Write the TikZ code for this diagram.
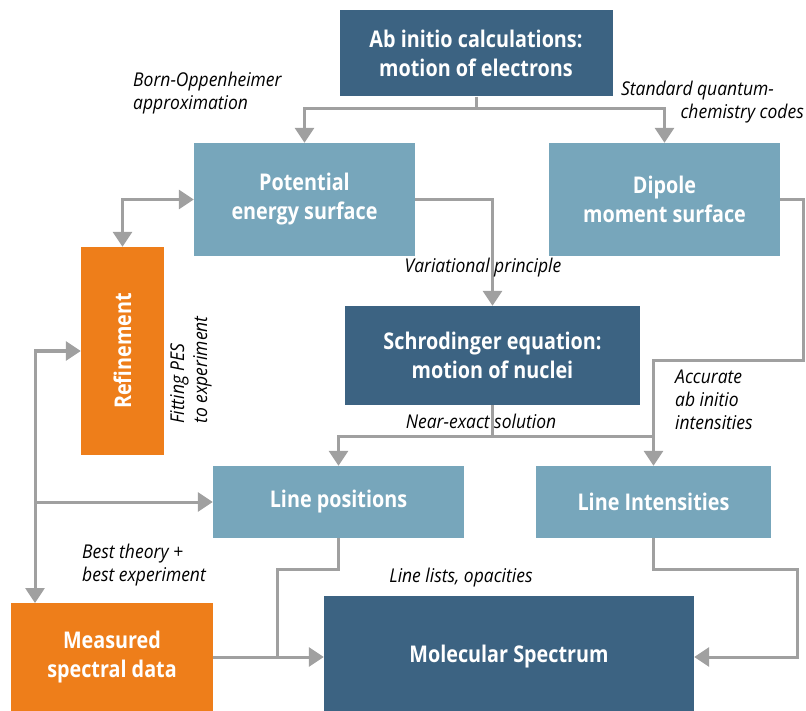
\documentclass[tikz,border=0pt]{standalone}
\usepackage{fontspec}
\setmainfont{Open Sans}[FakeStretch=0.86]
\newfontfamily\lblfont{Open Sans}[FakeStretch=0.92]
\usetikzlibrary{arrows.meta}
\definecolor{darkbox}{HTML}{3C6382}
\definecolor{lightbox}{HTML}{77A6BB}
\definecolor{orangebox}{HTML}{EE7E1A}
\definecolor{linegray}{HTML}{A0A0A0}
\begin{document}
\begin{tikzpicture}[x=1pt, y=-1pt,
    box/.style={inner sep=0pt, text=white, align=center,
      font=\fontsize{23}{29}\selectfont\bfseries},
    darkbox/.style={box, fill=darkbox},
    lightbox/.style={box, fill=lightbox},
    orangebox/.style={box, fill=orangebox},
    lbl/.style={font=\lblfont\fontsize{19}{23}\selectfont\itshape, inner sep=0pt},
    conn/.style={draw=linegray, line width=3pt},
    arr/.style={conn, -{Triangle[length=15pt,width=19pt]}},
    arrboth/.style={conn, {Triangle[length=15pt,width=19pt]}-{Triangle[length=15pt,width=19pt]}}]
  \useasboundingbox (0,0) rectangle (806,711);
  \node[darkbox, minimum width=273pt, minimum height=86pt] (abinit) at (476, 53.5) {Ab initio calculations:\\motion of electrons};
  \node[lightbox, minimum width=221pt, minimum height=113pt] (pes) at (304.5, 199.5) {Potential\\energy surface};
  \node[lightbox, minimum width=231pt, minimum height=113pt] (dms) at (664.5, 199.5) {Dipole\\moment surface};
  \node[orangebox, minimum width=83pt, minimum height=208pt] (refine) at (122.5, 351) {};
  \node[box, rotate=90] (refinetxt) at (refine.center) {Refinement};
  \node[darkbox, minimum width=295pt, minimum height=99pt] (schro) at (492.5, 355.5) {Schrodinger equation:\\motion of nuclei};
  \node[lightbox, minimum width=251pt, minimum height=72pt] (linepos) at (338.5, 502) {Line positions};
  \node[lightbox, minimum width=235pt, minimum height=72pt] (lineint) at (653.5, 502) {Line Intensities};
  \node[orangebox, minimum width=202pt, minimum height=108pt] (meas) at (112, 657) {Measured\\spectral data};
  \node[darkbox, minimum width=370pt, minimum height=122pt] (molspec) at (509, 657) {Molecular Spectrum};
  \coordinate (split1) at (476, 109);
  \coordinate (split2) at (492.5, 436);
  \coordinate (dmsbend) at (803, 360);
  \coordinate (trunkb) at (35, 603);
  \coordinate (join) at (277, 657);
  \coordinate (rtbend) at (797, 657);
  \draw[conn] (abinit.south) -- (split1);
  \draw[arr] (split1) -| (pes.north);
  \draw[arr] (split1) -| (dms.north);
  \draw[arrboth] (refine.north) |- (pes.west);
  \draw[arr] (pes.east) -| (schro.north);
  \draw[arr] (dms.east) -| (dmsbend) -| (lineint.north);
  \draw[conn] (schro.south) -- (split2);
  \draw[arr] (split2) -| (linepos.north);
  \draw[conn] (split2) -- (split2 -| lineint.north);
  \draw[arrboth] (refine.west) -| (trunkb);
  \draw[arr] (trunkb |- linepos.west) -- (linepos.west);
  \draw[conn] (linepos.south) -- ++(0, 31) -| (join);
  \draw[arr] (meas.east) -- (molspec.west);
  \draw[arr] (lineint.south) -- ++(0, 31) -| (rtbend) -- (molspec.east);
  \node[lbl, anchor=west, align=left] (bornlbl) at (133, 93.5) {Born-Oppenheimer\\approximation};
  \node[lbl, anchor=east, align=right] (stdlbl) at (804, 102) {Standard quantum-\hspace*{30pt}\\chemistry codes};
  \node[lbl] (varlbl) at (483, 268) {Variational principle};
  \node[lbl] (nearlbl) at (481, 421) {Near-exact solution};
  \node[lbl, anchor=west, align=left] (acclbl) at (675, 400) {Accurate\\ab initio\\intensities};
  \node[lbl, rotate=90, align=left] (fitlbl) at (191, 370) {Fitting PES\\to experiment};
  \node[lbl, anchor=west, align=left] (bestlbl) at (82, 565) {Best theory +\\best experiment};
  \node[lbl] (linelbl) at (461, 578) {Line lists, opacities};
\end{tikzpicture}
\end{document}
